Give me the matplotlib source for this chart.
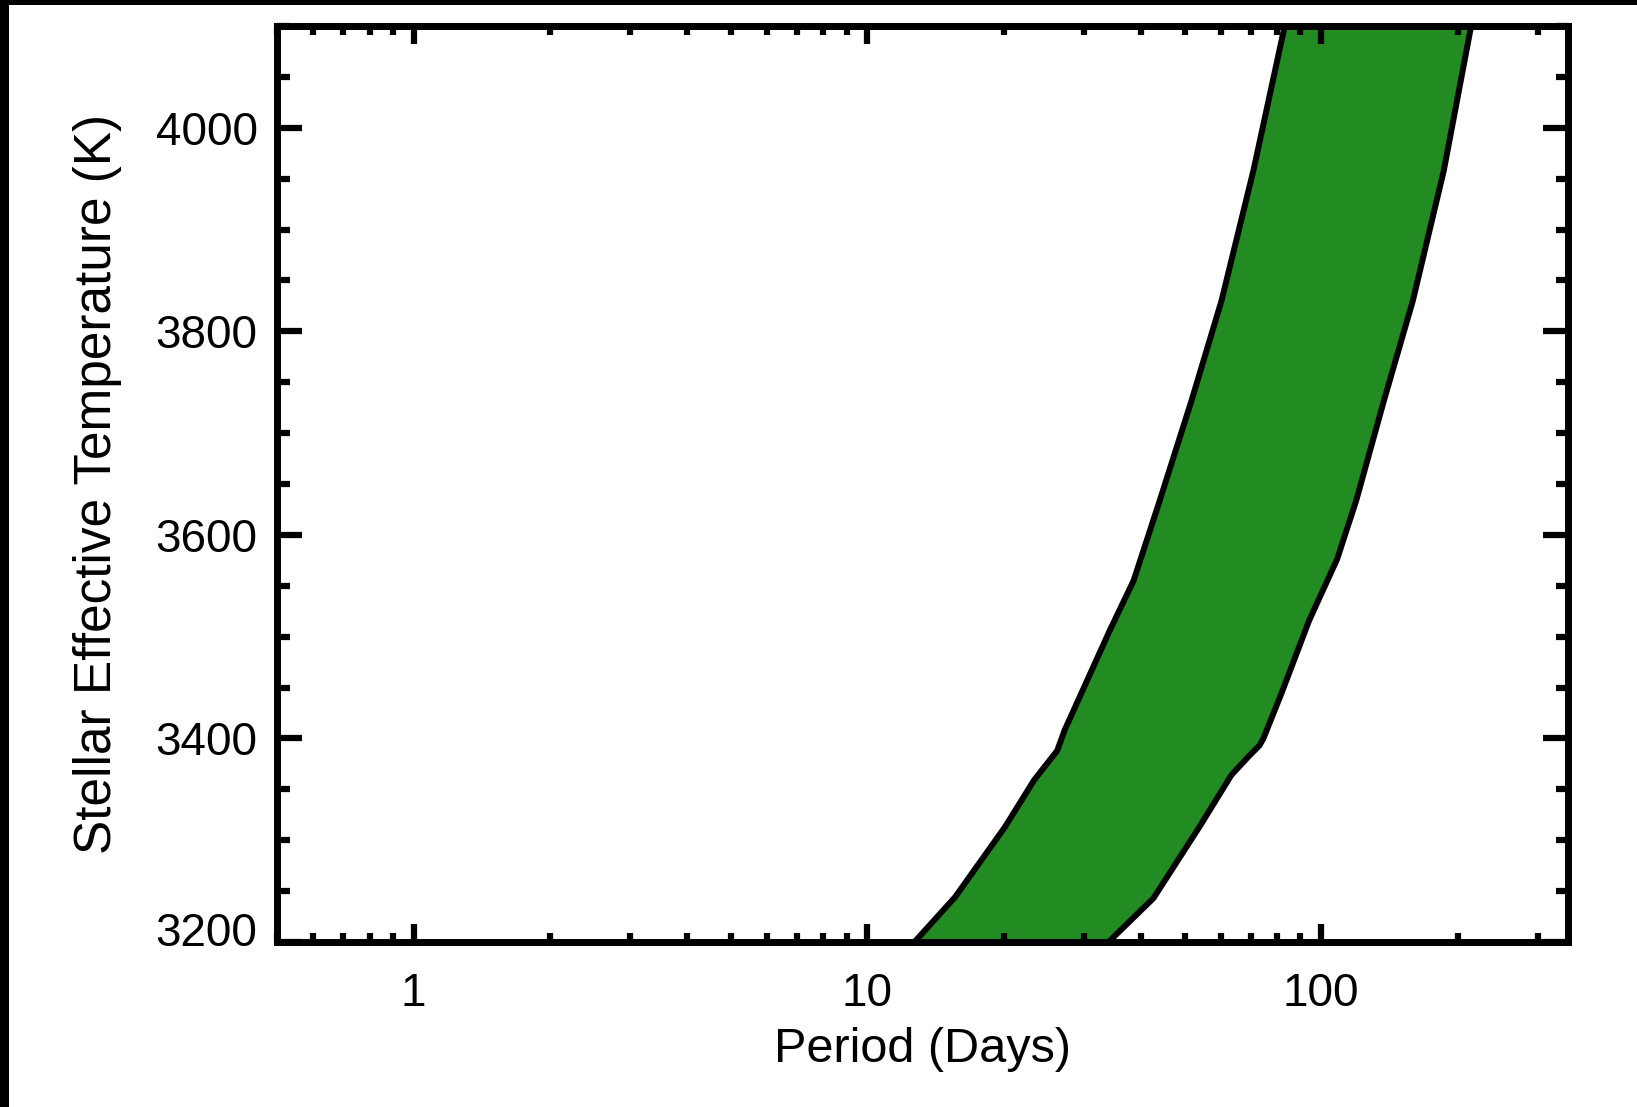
import matplotlib
matplotlib.use("Agg")
import matplotlib.pyplot as plt
from matplotlib.patches import Rectangle
from matplotlib.ticker import LogLocator, MultipleLocator, NullFormatter
from matplotlib.transforms import ScaledTranslation

# Inner edge of the zone (short periods), temperature in K, period in days
temp_inner = [3200, 3244, 3313, 3359, 3388, 3408, 3457, 3506, 3555, 3634, 3732, 3830, 3958, 4100]
period_inner = [12.7, 15.6, 20.1, 23.3, 26.2, 27.2, 30.5, 34.2, 38.6, 44.1, 51.8, 60.3, 70.9, 83.1]

# Outer edge of the zone (long periods)
temp_outer = [3200, 3243, 3313, 3364, 3382, 3393, 3400, 3444, 3516, 3576, 3634, 3732, 3830, 3958, 4100]
period_outer = [34.0, 42.7, 53.9, 63.4, 69.1, 73.1, 74.6, 81.7, 94.1, 108.4, 119.5, 137.5, 159.2, 186.3, 214.0]

x_ticks = [1, 10, 100]
x_tick_labels = ["1", "10", "100"]
y_ticks = [3200, 3400, 3600, 3800, 4000]

plt.rcParams["font.family"] = ["Liberation Sans", "DejaVu Sans"]

fig = plt.figure(figsize=(16.37, 11.07), dpi=100)
ax = fig.add_axes([0.1692, 0.1491, 0.7887, 0.8274])

# Zone as one closed polygon: inner edge going up, outer edge coming back down
poly_p = period_inner + period_outer[::-1]
poly_t = temp_inner + temp_outer[::-1]
ax.fill(poly_p, poly_t, facecolor="#228b22", edgecolor="black",
        linewidth=4.3, joinstyle="round")

ax.set_xscale("log")
ax.set_xlim(0.5, 350)
ax.set_ylim(3200, 4100)

ax.set_xticks(x_ticks, labels=x_tick_labels)
ax.xaxis.set_minor_locator(LogLocator(base=10, subs=range(2, 10)))
ax.xaxis.set_minor_formatter(NullFormatter())
ax.set_yticks(y_ticks, labels=[str(t) for t in y_ticks])
ax.yaxis.set_minor_locator(MultipleLocator(50))

# Ticks inward on all four sides
ax.tick_params(which="both", direction="in", top=True, right=True,
               labelsize=33, width=4.5, colors="black")
ax.tick_params(axis="x", which="major", length=13, pad=21.5)
ax.tick_params(axis="x", which="minor", length=6.5)
ax.tick_params(axis="y", which="major", length=18, pad=14)
ax.tick_params(axis="y", which="minor", length=9)

for s in ax.spines.values():
    s.set_linewidth(5)

# The bottom label sits a bit above its tick
lab = ax.get_yticklabels()[0]
lab.set_transform(lab.get_transform() + ScaledTranslation(0, 0.13, fig.dpi_scale_trans))

ax.set_xlabel("Period (Days)", fontsize=35)
ax.set_ylabel("Stellar Effective Temperature (K)", fontsize=37)
ax.xaxis.set_label_coords(0.5, -0.093)
ax.yaxis.set_label_coords(-0.120, 0.5)

# Dark strips on the left and top edges of the page
fig.patches.append(Rectangle((0, 0), 9 / 1637, 1, transform=fig.transFigure,
                             facecolor="black", edgecolor="none"))
fig.patches.append(Rectangle((0, 1 - 5 / 1107), 1, 5 / 1107, transform=fig.transFigure,
                             facecolor="black", edgecolor="none"))

fig.savefig("out.png", dpi=100)
